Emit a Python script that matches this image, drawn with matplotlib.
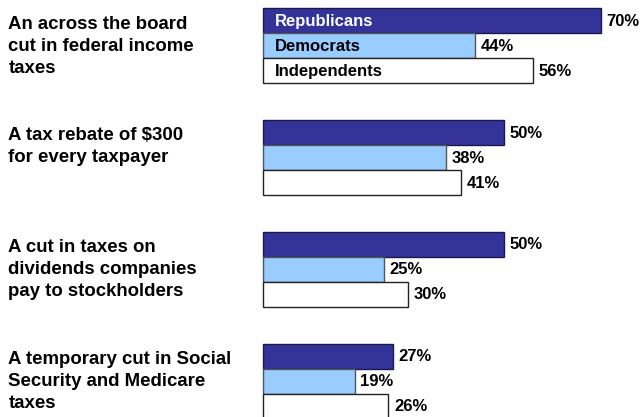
import matplotlib
matplotlib.use('Agg')
import matplotlib.pyplot as plt
from matplotlib.transforms import blended_transform_factory

plt.rcParams['font.family'] = ['Liberation Sans', 'DejaVu Sans']
plt.rcParams['font.weight'] = 'bold'

questions = [
    "An across the board\ncut in federal income\ntaxes",
    "A tax rebate of $300\nfor every taxpayer",
    "A cut in taxes on\ndividends companies\npay to stockholders",
    "A temporary cut in Social\nSecurity and Medicare\ntaxes",
]
parties = ["Republicans", "Democrats", "Independents"]
republicans = [70, 50, 50, 27]
democrats = [44, 38, 25, 19]
independents = [56, 41, 30, 26]

colors = ["#333399", "#99ccff", "#ffffff"]
edges = ["#1a1a4d", "#555555", "#222222"]
name_colors = ["white", "black", "black"]

group_gap = 4.47  # in bar heights

fig = plt.figure(figsize=(6.43, 4.17), dpi=100)
ax = fig.add_axes([0, 0, 1, 1])
ax.set_xlim(-54.36, 78.69)
ax.set_ylim(15.85, -0.83)
ax.axis('off')

label_tf = blended_transform_factory(fig.transFigure, ax.transData)

series = [republicans, democrats, independents]
for g, question in enumerate(questions):
    base = g * group_gap
    for k, values in enumerate(series):
        y = base + k
        ax.barh(y, values[g], height=1, left=0, color=colors[k],
                edgecolor=edges[k], linewidth=1)
        ax.annotate(f"{values[g]}%", (values[g], y), xytext=(4, -0.5),
                    textcoords='offset points', va='center', ha='left',
                    fontsize=12, fontweight='bold', color='black')
        if g == 0:
            ax.annotate(parties[k], (0, y), xytext=(9, -0.5),
                        textcoords='offset points', va='center', ha='left',
                        fontsize=12, fontweight='bold', color=name_colors[k])
    ax.text(8.3 / 643, base - 0.2, question, transform=label_tf,
            va='top', ha='left', fontsize=13.4, fontweight='bold',
            linespacing=1.38, color='black')

fig.savefig("out.png", dpi=100)
